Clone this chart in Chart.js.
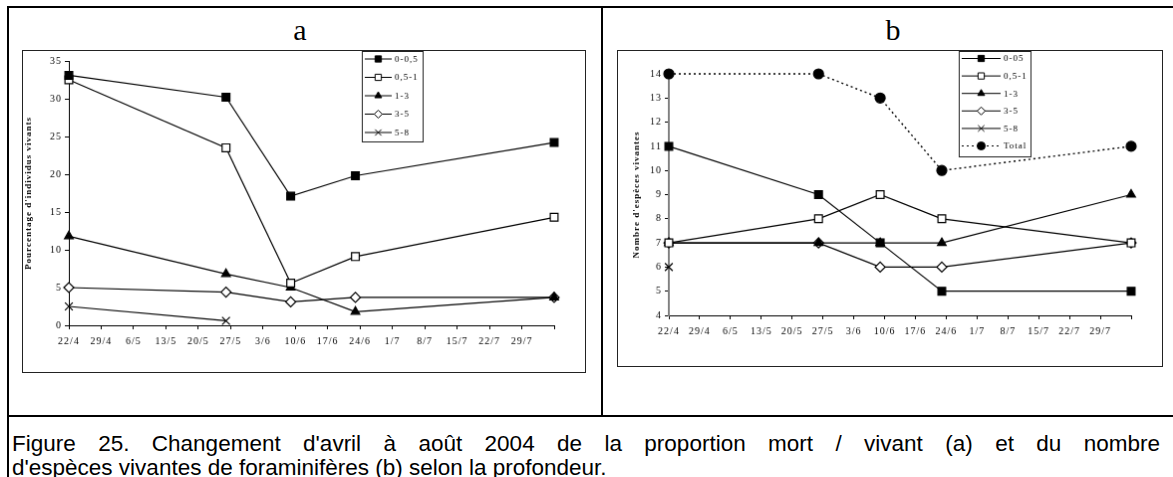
<!DOCTYPE html>
<html>
<head>
<meta charset="utf-8">
<script src="https://cdn.jsdelivr.net/npm/chart.js@4.4.0/dist/chart.umd.min.js"></script>
<style>
  body { margin: 0; background: #fff; width: 1173px; height: 477px; overflow: hidden; position: relative; }
  .rule { position: absolute; background: #000; }
  canvas { position: absolute; border: 1px solid #222; }
  .panel { position: absolute; font: 30px/30px "Liberation Serif", serif; color: #000; text-align: center; width: 60px; }
  .caption { position: absolute; left: 12px; top: 432px; width: 1148px; font: 22.5px/24px "Liberation Sans", Arial, sans-serif; color: #000; }
  .caption .l1 { text-align: justify; text-align-last: justify; }
</style>
</head>
<body>
<div class="rule" style="left:7px;top:6px;width:1166px;height:2px"></div>
<div class="rule" style="left:7px;top:6px;width:2px;height:471px"></div>
<div class="rule" style="left:601px;top:6px;width:2px;height:410px"></div>
<div class="rule" style="left:7px;top:415px;width:1166px;height:2px"></div>

<div class="panel" style="left:270px;top:15px">a</div>
<div class="panel" style="left:863px;top:15px">b</div>

<canvas id="chartA" width="564" height="323" style="left:22px;top:50px"></canvas>
<canvas id="chartB" width="546" height="317" style="left:617px;top:50px"></canvas>

<div class="caption">
  <div class="l1">Figure 25. Changement d'avril à août 2004 de la proportion mort / vivant (a) et du nombre</div>
  <div>d'espèces vivantes de foraminifères (b) selon la profondeur.</div>
</div>

<script>
// sampling dates (2004) and the weekly axis labels
var sampleDates = ['22/4', '26/5', '9/6', '23/6', '5/8'];
var xTickLabels = ['22/4', '29/4', '6/5', '13/5', '20/5', '27/5', '3/6', '10/6', '17/6', '24/6', '1/7', '8/7', '15/7', '22/7', '29/7', ''];

// a : pourcentage d'individus vivants par tranche de profondeur
var pct0_05 = [33.1, 30.2, 17.1, 19.8, 24.2];
var pct05_1 = [32.5, 23.5, 5.6, 9.1, 14.3];
var pct1_3  = [11.8, 6.8, 5.0, 1.8, 3.7];
var pct3_5  = [5.0, 4.4, 3.1, 3.7, 3.7];
var pct5_8  = [2.5, 0.6, null, null, null];

// b : nombre d'especes vivantes
var nb0_05  = [11, 9, 7, 5, 5];
var nb05_1  = [7, 8, 9, 8, 7];
var nb1_3   = [7, 7, 7, 7, 9];
var nb3_5   = [7, 7, 6, 6, 7];
var nb5_8   = [6, null, null, null, null];
var nbTotal = [14, 14, 13, 10, 11];

var yTicksA = [0, 35, 5];
var yTicksB = [4, 14, 1];

function dayOf(s) {
  var p = s.split('/');
  var d = new Date(2004, +p[1] - 1, +p[0]);
  return Math.round((d - new Date(2004, 3, 22)) / 864e5);
}
var sampleDays = sampleDates.map(dayOf);

function pts(vals) {
  return vals.map(function(v, i) { return { x: sampleDays[i], y: v }; });
}

var markers = {
  sq:    { pointStyle: 'rect', pointRadius: 5.5, pointBackgroundColor: '#000' },
  sqO:   { pointStyle: 'rect', pointRadius: 5.5, pointBackgroundColor: '#fff' },
  tri:   { pointStyle: 'triangle', pointRadius: 5, pointBackgroundColor: '#000' },
  dia:   { pointStyle: 'rectRot', pointRadius: 5, pointBackgroundColor: '#fff' },
  cross: { pointStyle: 'crossRot', pointRadius: 5.5, pointBackgroundColor: '#fff' },
  dot:   { pointStyle: 'circle', pointRadius: 5, pointBackgroundColor: '#000' }
};

function series(label, vals, m, dash) {
  return Object.assign({
    label: label,
    data: pts(vals),
    borderColor: '#000',
    borderWidth: dash ? 1.4 : 1.2,
    borderDash: dash || [],
    pointBorderColor: '#000',
    pointBorderWidth: 1.2,
    spanGaps: false,
    clip: false,
    tension: 0
  }, m);
}

// Excel-style spaced lettering for every text on the canvas
var spacedText = {
  id: 'spacedText',
  beforeUpdate: function(chart) { if ('letterSpacing' in chart.ctx) chart.ctx.letterSpacing = '1px'; },
  beforeDraw: function(chart) { if ('letterSpacing' in chart.ctx) chart.ctx.letterSpacing = '1px'; }
};

// legend box with a line sample and marker per dataset
var boxLegend = {
  id: 'boxLegend',
  afterDraw: function(chart, args, o) {
    var ctx = chart.ctx;
    ctx.save();
    ctx.fillStyle = '#fff';
    ctx.fillRect(o.x, o.y, o.w, o.h);
    ctx.strokeStyle = '#222';
    ctx.lineWidth = 1;
    ctx.strokeRect(o.x + 0.5, o.y + 0.5, o.w, o.h);
    chart.data.datasets.forEach(function(ds, i) {
      var y = o.y + o.first + i * o.row;
      ctx.strokeStyle = '#000';
      ctx.lineWidth = 1;
      ctx.setLineDash(ds.borderDash || []);
      ctx.beginPath();
      ctx.moveTo(o.x0, y + 0.5);
      ctx.lineTo(o.x1, y + 0.5);
      ctx.stroke();
      ctx.setLineDash([]);
      ctx.fillStyle = ds.pointBackgroundColor;
      ctx.strokeStyle = '#000';
      Chart.helpers.drawPoint(ctx, {
        pointStyle: ds.pointStyle, radius: ds.pointRadius * 0.8, rotation: 0, borderWidth: 1
      }, (o.x0 + o.x1) / 2, y + 0.5);
      ctx.fillStyle = '#000';
      ctx.font = '9px "Liberation Serif"';
      ctx.textBaseline = 'middle';
      ctx.textAlign = 'left';
      ctx.fillText(ds.label, o.x1 + 3, y + 1);
    });
    ctx.restore();
  }
};

function makeChart(id, datasets, geo, yRange, yTitle, legend) {
  var cv = document.getElementById(id);
  var tickFont = { family: 'Liberation Serif', size: 10 };
  return new Chart(cv.getContext('2d'), {
    type: 'line',
    data: { datasets: datasets },
    options: {
      responsive: false,
      animation: false,
      events: [],
      layout: { padding: { left: 0, top: geo.top, right: cv.width - geo.right, bottom: 0 } },
      plugins: { legend: { display: false }, tooltip: { enabled: false }, boxLegend: legend },
      scales: {
        x: {
          type: 'linear', min: 0, max: 105,
          afterFit: function(s) { s.height = cv.height - geo.bottom; },
          grid: { drawOnChartArea: false, drawTicks: true, tickLength: 4, color: '#000' },
          border: { color: '#000', width: 1 },
          ticks: {
            stepSize: 7, autoSkip: false, maxRotation: 0, padding: 6, color: '#000', font: tickFont,
            callback: function(v, i) { return xTickLabels[i] || ''; }
          }
        },
        y: {
          min: yRange[0], max: yRange[1],
          afterFit: function(s) { s.width = geo.left; },
          grid: { drawOnChartArea: false, drawTicks: true, tickLength: 4, color: '#000' },
          border: { color: geo.yAxisColor, width: geo.yAxisWidth },
          ticks: { stepSize: yRange[2], padding: 3, color: '#000', font: tickFont },
          title: {
            display: true, text: yTitle, color: '#000',
            font: { family: 'Liberation Serif', size: 9, weight: 'bold' },
            padding: { top: geo.titlePad, bottom: 0 }
          }
        }
      }
    },
    plugins: [spacedText, boxLegend]
  });
}

makeChart('chartA', [
  series('0-0,5', pct0_05, markers.sq),
  series('0,5-1', pct05_1, markers.sqO),
  series('1-3', pct1_3, markers.tri),
  series('3-5', pct3_5, markers.dia),
  series('5-8', pct5_8, markers.cross)
], { left: 46, top: 10, right: 533, bottom: 276, yAxisColor: '#000', yAxisWidth: 1, titlePad: 0 },
   yTicksA, "Pourcentage d'individus vivants",
   { x: 340, y: 0, w: 61, h: 91, first: 7.5, row: 18.5, x0: 343, x1: 370 });

makeChart('chartB', [
  series('0-05', nb0_05, markers.sq),
  series('0,5-1', nb05_1, markers.sqO),
  series('1-3', nb1_3, markers.tri),
  series('3-5', nb3_5, markers.dia),
  series('5-8', nb5_8, markers.cross),
  series('Total', nbTotal, markers.dot, [2, 3])
], { left: 51, top: 23, right: 515, bottom: 266, yAxisColor: '#808080', yAxisWidth: 2, titlePad: 13 },
   yTicksB, "Nombre d'espèces vivantes",
   { x: 342, y: 0, w: 72, h: 106, first: 7, row: 17.6, x0: 345, x1: 384 });
</script>
</body>
</html>
